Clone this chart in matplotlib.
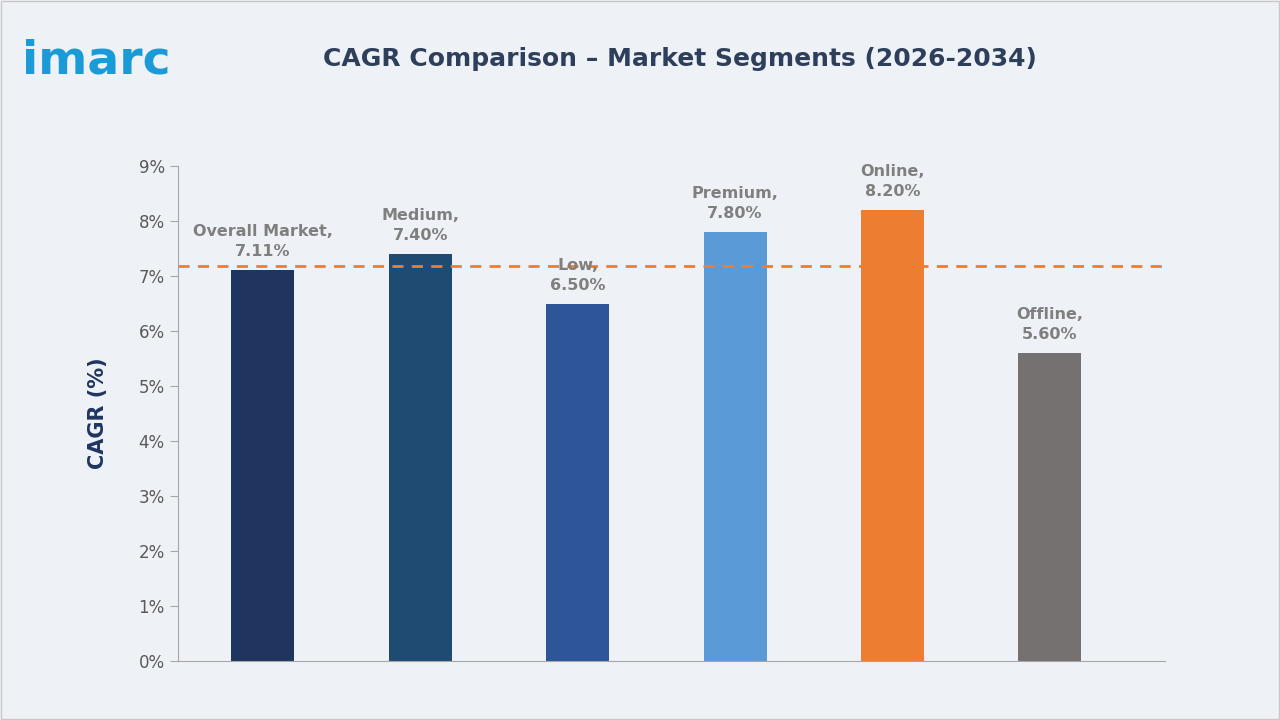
import matplotlib
matplotlib.use("Agg")
import matplotlib.pyplot as plt
from matplotlib.patches import Rectangle

categories = ["Overall Market", "Medium", "Low", "Premium", "Online", "Offline"]
values = [7.11, 7.40, 6.50, 7.80, 8.20, 5.60]
colors = ["#1f3560", "#1f4b73", "#2e5597", "#5b9bd5", "#ed7d31", "#767171"]
ref_line = 7.18
yticks = list(range(0, 10))

fig = plt.figure(figsize=(12.8, 7.2), dpi=100)
fig.patch.set_facecolor("#eef2f7")
fig.add_artist(Rectangle((0.001, 0.001), 0.998, 0.998, transform=fig.transFigure,
                         fill=False, edgecolor="#c8c8c8", lw=1))
ax = fig.add_axes([0.139, 0.082, 0.771, 0.687])
ax.set_facecolor("#eef2f7")
x = list(range(len(categories)))
ax.bar(x, values, width=0.4, color=colors, zorder=2)
ax.axhline(ref_line, color="#ed7d31", ls=(0, (4, 3)), lw=2, zorder=3)
for xi, c, v in zip(x, categories, values):
    ax.text(xi, v + 0.2, f"{c},\n{v:.2f}%", ha="center", va="bottom",
            fontsize=11.5, color="#7f7f7f", fontweight="bold", linespacing=1.4)
ax.set_xlim(-0.54, 5.73)
ax.set_ylim(0, 9)
ax.set_yticks(yticks)
ax.set_yticklabels([f"{t}%" for t in yticks], fontsize=12, color="#595959")
ax.set_xticks([])
for s in ["top", "right"]:
    ax.spines[s].set_visible(False)
for s in ["left", "bottom"]:
    ax.spines[s].set_color("#a6a6a6")
ax.tick_params(axis="y", color="#a6a6a6", length=6)
ax.set_ylabel("CAGR (%)", fontsize=15, fontweight="bold", color="#1f3560", labelpad=22)

fig.text(0.017, 0.915, "imarc", fontsize=34, color="#1a9ad6", fontweight="bold", va="center")
fig.text(0.531, 0.918, "CAGR Comparison – Market Segments (2026-2034)", fontsize=18,
         fontweight="bold", color="#2e3f5c", ha="center", va="center")
fig.savefig("out.png", dpi=100, facecolor=fig.get_facecolor())
